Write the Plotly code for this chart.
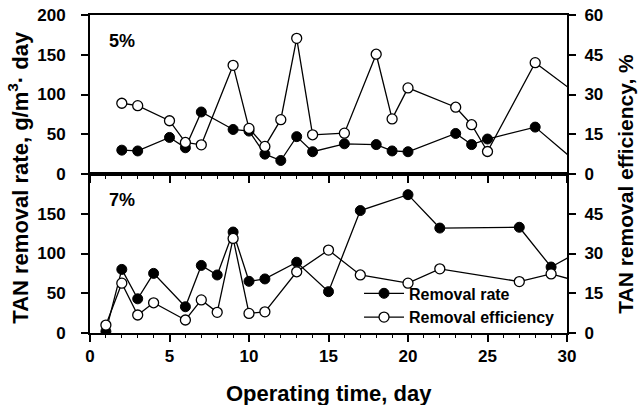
import plotly.graph_objects as go

# ---- data: 5% panel (top) ----
days_5_rate = [2, 3, 5, 6, 7, 9, 10, 11, 12, 13, 14, 16, 18, 19, 20, 23, 24, 25, 28, 31]
rate_5 = [30, 29, 46, 33, 78, 56, 54, 25, 17, 47, 28, 38, 37, 29, 28, 51, 37, 44, 59, 8]
days_5_eff = [2, 3, 5, 6, 7, 9, 10, 11, 12, 13, 14, 16, 18, 19, 20, 23, 24, 25, 28, 31]
eff_5 = [26.7, 25.8, 20.1, 11.9, 11.0, 41.0, 17.2, 10.4, 20.5, 51.2, 14.8, 15.4, 45.2, 20.8, 32.5, 25.2, 18.6, 8.5, 42.0, 28.5]

# ---- data: 7% panel (bottom) ----
days_7 = [1, 2, 3, 4, 6, 7, 8, 9, 10, 11, 13, 15, 17, 20, 22, 27, 29, 31]
rate_7 = [2, 80, 43, 75, 33, 85, 73, 127, 65, 68, 89, 52, 154, 174, 132, 133, 83, 105]
eff_7 = [3.0, 18.8, 6.8, 11.4, 4.9, 12.5, 7.8, 35.7, 7.4, 8.0, 23.1, 31.3, 21.9, 18.8, 24.2, 19.4, 22.3, 19.0]

rate_ticks_top = [0, 50, 100, 150, 200]
rate_ticks_bot = [0, 50, 100, 150]
eff_ticks_top = [0, 15, 30, 45, 60]
eff_ticks_bot = [0, 15, 30, 45]
x_ticks = [0, 5, 10, 15, 20, 25, 30]

FONT = "Liberation Sans, Arial, Helvetica, sans-serif"
BLACK = "#000000"

fig = go.Figure()

filled = dict(color=BLACK, size=10, line=dict(color=BLACK, width=1))
hollow = dict(color="white", size=10, line=dict(color=BLACK, width=1.3))
lineset = dict(color=BLACK, width=1.3)

# top panel
fig.add_trace(go.Scatter(x=days_5_rate, y=rate_5, mode="lines+markers", marker=filled,
                         line=lineset, xaxis="x2", yaxis="y2", showlegend=False, name="Removal rate"))
fig.add_trace(go.Scatter(x=days_5_eff, y=eff_5, mode="lines+markers", marker=hollow,
                         line=lineset, xaxis="x2", yaxis="y4", showlegend=False, name="Removal efficiency"))
# bottom panel
fig.add_trace(go.Scatter(x=days_7, y=rate_7, mode="lines+markers", marker=filled,
                         line=lineset, xaxis="x", yaxis="y", name="Removal rate"))
fig.add_trace(go.Scatter(x=days_7, y=eff_7, mode="lines+markers", marker=hollow,
                         line=lineset, xaxis="x", yaxis="y3", name="Removal efficiency"))

tickfont = dict(family=FONT, size=17, color=BLACK, weight="bold")
common_axis = dict(showline=True, linewidth=2, linecolor=BLACK, showgrid=False, zeroline=False,
                   ticks="outside", ticklen=7, tickwidth=2, tickcolor=BLACK, tickfont=tickfont,
                   automargin=False, ticklabeloverflow="allow")
minor = dict(ticks="outside", dtick=1, ticklen=3, tickcolor=BLACK, tickwidth=1)

fig.update_layout(
    width=638, height=405,
    margin=dict(l=90, r=71, t=15, b=72, autoexpand=False),
    paper_bgcolor="white", plot_bgcolor="white",
    font=dict(family=FONT, color=BLACK),
    xaxis=dict(domain=[0, 1], anchor="y", range=[0, 30], tickvals=x_ticks, mirror=True,
               minor=minor, **common_axis),
    xaxis2=dict(domain=[0, 1], anchor="y2", range=[0, 30], tickvals=x_ticks, mirror=True,
                showticklabels=False, matches="x", minor=minor, **common_axis),
    yaxis=dict(domain=[0, 0.5], anchor="x", range=[0, 200], tickvals=rate_ticks_bot, mirror=True,
               ticklabelstandoff=12, **common_axis),
    yaxis2=dict(domain=[0.5, 1], anchor="x2", range=[0, 200], tickvals=rate_ticks_top, mirror=True,
                ticklabelstandoff=12, **common_axis),
    yaxis3=dict(overlaying="y", side="right", anchor="x", range=[0, 60], tickvals=eff_ticks_bot,
                ticklabelstandoff=5, **common_axis),
    yaxis4=dict(overlaying="y2", side="right", anchor="x2", range=[0, 60], tickvals=eff_ticks_top,
                ticklabelstandoff=5, **common_axis),
    legend=dict(x=0.564, y=0.178, xanchor="left", yanchor="top", bgcolor="rgba(0,0,0,0)",
                font=dict(family=FONT, size=16, color=BLACK, weight="bold"),
                tracegroupgap=0, itemwidth=40),
    annotations=[
        dict(text="5%", xref="x2 domain", yref="y2 domain", x=0.036, y=0.835, xanchor="left",
             yanchor="middle", showarrow=False, font=dict(family=FONT, size=18, weight="bold")),
        dict(text="7%", xref="x domain", yref="y domain", x=0.036, y=0.835, xanchor="left",
             yanchor="middle", showarrow=False, font=dict(family=FONT, size=18, weight="bold")),
        dict(text="TAN removal rate, g/m<sup>3</sup>· day", xref="paper", yref="paper",
             x=-0.15, y=0.49, xanchor="center", yanchor="middle", textangle=-90, showarrow=False,
             font=dict(family=FONT, size=22, weight="bold")),
        dict(text="TAN removal efficiency, %", xref="paper", yref="paper",
             x=1.122, y=0.47, xanchor="center", yanchor="middle", textangle=-90, showarrow=False,
             font=dict(family=FONT, size=21, weight="bold")),
        dict(text="Operating time, day", xref="paper", yref="paper",
             x=0.5, y=-0.189, xanchor="center", yanchor="middle", showarrow=False,
             font=dict(family=FONT, size=22, weight="bold")),
    ],
)

fig.write_html("out.html", config={"displayModeBar": False},
               post_script="document.body.style.margin='0';")
